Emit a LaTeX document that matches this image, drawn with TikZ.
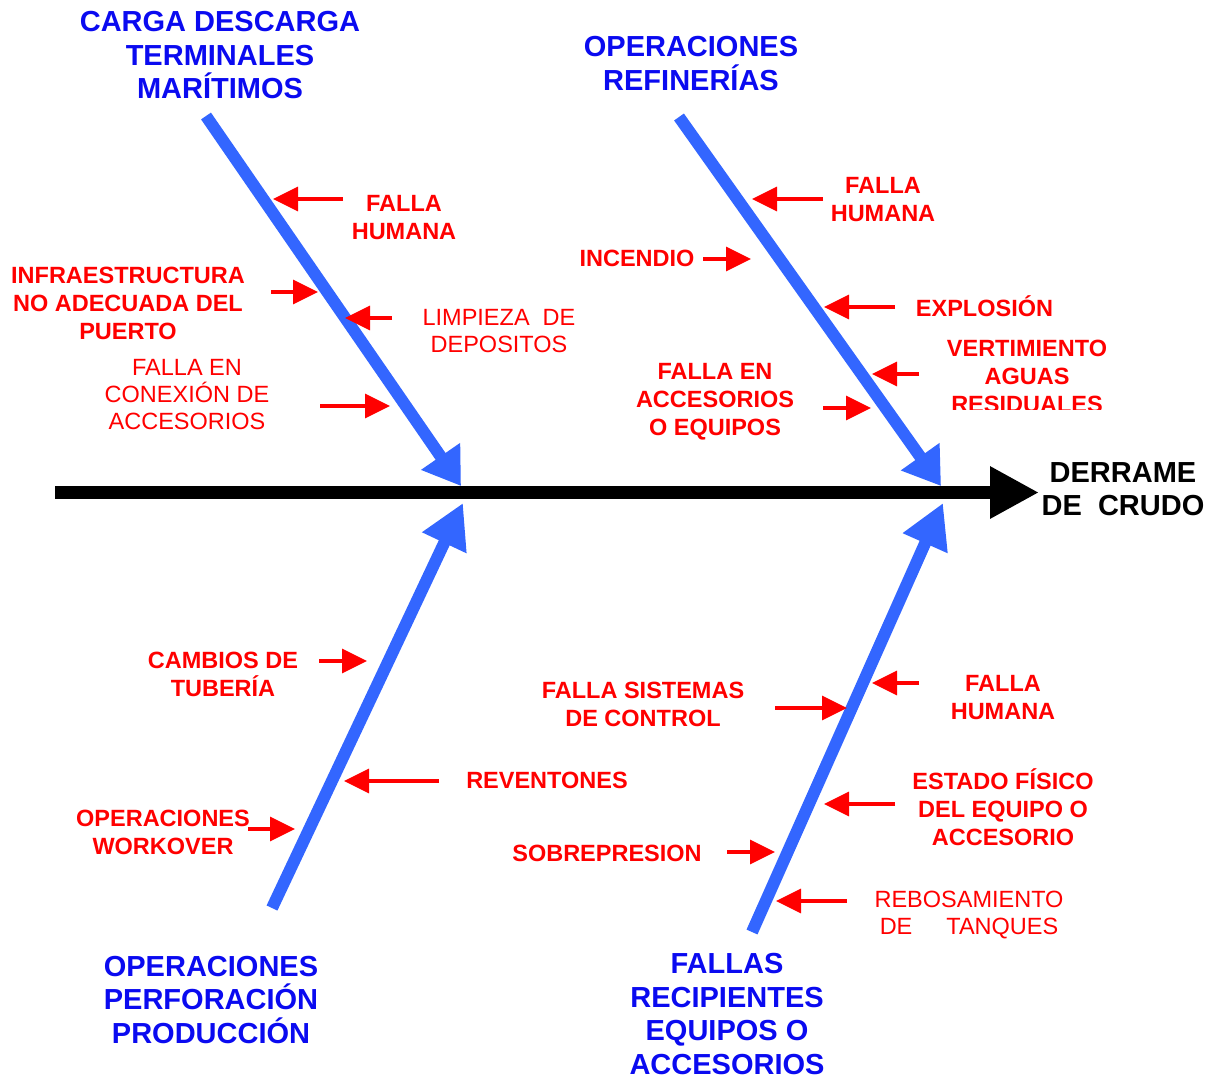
\documentclass[tikz,border=0pt]{standalone}
\usepackage{fontspec}
\setmainfont{Liberation Sans}
\usetikzlibrary{arrows.meta}

\definecolor{huesoazul}{RGB}{51,102,255}
\definecolor{tituloazul}{RGB}{10,10,240}

\tikzset{
  causa/.style={text=red, align=center, inner sep=0pt,
    font=\bfseries\fontsize{23.5}{28}\selectfont},
  causafina/.style={causa, font=\fontsize{23.5}{27}\selectfont},
  rama/.style={text=tituloazul, align=center, inner sep=0pt,
    font=\bfseries\fontsize{29}{33.5}\selectfont},
  hueso/.style={line width=12pt, huesoazul},
  espina/.style={line width=13pt, -{Triangle[length=49pt,width=49pt]}},
  flecha/.style={line width=3.3pt, red, -{Triangle[length=25pt,width=24pt]}},
}

\begin{document}
\begin{tikzpicture}[x=1pt, y=-1pt]
  \useasboundingbox (0,0) rectangle (1215,1080);

  % espina central
  \coordinate (cola) at (55,492.5);
  \coordinate (cabeza) at (1039,492.5);
  \draw[espina] (cola) -- (cabeza);
  \node[rama, text=black] (efecto) at (1123,489) {DERRAME\\DE\ \ CRUDO};

  % huesos
  \coordinate (h1a) at (206,116); \coordinate (h1b) at (461,486);
  \coordinate (h2a) at (679,117); \coordinate (h2b) at (941,486);
  \coordinate (h3a) at (272,908); \coordinate (h3b) at (463,503);
  \coordinate (h4a) at (752,932); \coordinate (h4b) at (943,503);
  \draw[hueso, -{Triangle[length=36pt,width=45pt]}] (h1a) -- (h1b);
  \draw[hueso, -{Triangle[length=36pt,width=45pt]}] (h2a) -- (h2b);
  \draw[hueso, -{Triangle[length=44pt,width=46pt]}] (h3a) -- (h3b);
  \draw[hueso, -{Triangle[length=44pt,width=46pt]}] (h4a) -- (h4b);

  % ramas
  \node[rama] (carga) at (220,55.5) {CARGA DESCARGA\\TERMINALES\\MARÍTIMOS};
  \node[rama] (refineria) at (691,63.5) {OPERACIONES\\REFINERÍAS};
  \node[rama] (perforacion) at (211,999.5) {OPERACIONES\\PERFORACIÓN\\PRODUCCIÓN};
  \node[rama] (recipientes) at (727,1014) {FALLAS\\RECIPIENTES\\EQUIPOS O\\ACCESORIOS};

  % causas: carga y descarga
  \node[causa] (humanaA) at (404,218) {FALLA\\HUMANA};
  \node[causa] (infra) at (128,303) {INFRAESTRUCTURA\\NO ADECUADA DEL\\PUERTO};
  \node[causafina] (limpieza) at (499,331) {LIMPIEZA\ \ DE\\DEPOSITOS};
  \node[causafina] (conexion) at (187,395) {FALLA EN\\CONEXIÓN DE\\ACCESORIOS};

  % causas: refinerias
  \node[causa] (humanaB) at (883,200) {FALLA\\HUMANA};
  \node[causa] (incendio) at (637,258) {INCENDIO};
  \node[causa] (explosion) at (984.5,306) {EXPLOSIÓN};
  \begin{scope}
    \clip (930,330) rectangle (1120,409);
    \node[causa] (vertimiento) at (1027,376.5) {VERTIMIENTO\\AGUAS\\RESIDUALES};
  \end{scope}
  \node[causa] (accesorios) at (715,402) {FALLA EN\\ACCESORIOS\\O EQUIPOS};

  % causas: perforacion
  \node[causa] (tuberia) at (223,674) {CAMBIOS DE\\TUBERÍA};
  \node[causa] (reventones) at (547,780) {REVENTONES};
  \node[causa] (workover) at (163,832) {OPERACIONES\\WORKOVER};

  % causas: recipientes
  \node[causa] (control) at (643,704) {FALLA SISTEMAS\\DE CONTROL};
  \node[causa] (humanaC) at (1003,698) {FALLA\\HUMANA};
  \node[causa] (estado) at (1003,807) {ESTADO FÍSICO\\DEL EQUIPO O\\ACCESORIO};
  \node[causa] (sobrepresion) at (607,853) {SOBREPRESION};
  \node[causafina] (rebosamiento) at (969,915) {REBOSAMIENTO\\DE\hspace{34pt}TANQUES};

  % flechas rojas
  \foreach \n/\xa/\xb/\y in {
      a1/343/273/199, a2/271/318/292, a3/392/345/318, a4/320/390/406,
      b1/823/752/199, b2/703/751/259, b3/895/824/307, b4/919/872/374, b5/823/871/408,
      c1/319/367/661, c2/439/344/781, c3/248/295/829,
      d1/775/847/708, d2/919/872/683, d3/895/824/804, d4/727/775/852, d5/847/776/901} {
    \coordinate (\n-t) at (\xa,\y);
    \coordinate (\n-p) at (\xb,\y);
    \draw[flecha] (\n-t) -- (\n-p);
  }
\end{tikzpicture}
\end{document}
